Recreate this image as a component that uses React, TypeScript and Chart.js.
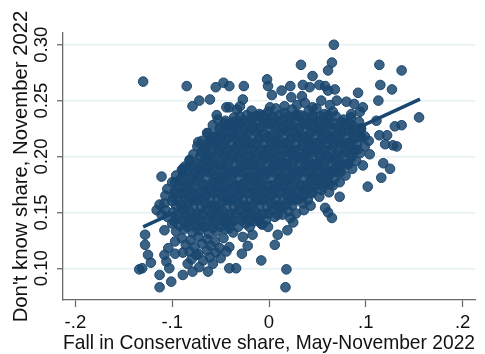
import { useEffect, useRef } from "react";
import { Chart, registerables } from "chart.js";

Chart.register(...registerables);

type Pt = [number, number];

// [fall in Conservative share, don't-know share] per constituency

// dense central band, row by row from the top
const coreCloud: Pt[] = [
  [-0.030,0.236],[-0.018,0.241],[-0.010,0.238],[-0.001,0.240],[0.007,0.243],[0.016,0.239],[0.024,0.242],[0.032,0.237],[0.041,0.241],[0.049,0.243],[0.057,0.238],[0.066,0.240],
  [-0.045,0.232],[-0.036,0.235],[-0.027,0.232],[-0.019,0.234],[-0.011,0.236],[-0.003,0.233],[0.005,0.235],[0.013,0.232],[0.021,0.234],[0.029,0.236],[0.037,0.233],[0.045,0.235],[0.053,0.232],[0.061,0.234],[0.069,0.236],[0.077,0.233],[0.085,0.235],[0.093,0.231],
  [-0.058,0.228],[-0.050,0.226],[-0.041,0.229],[-0.033,0.227],[-0.025,0.225],[-0.017,0.228],[-0.009,0.226],[-0.001,0.229],[0.007,0.227],[0.015,0.225],[0.023,0.228],[0.031,0.226],[0.039,0.229],[0.047,0.227],[0.055,0.225],[0.063,0.228],[0.071,0.226],[0.079,0.229],[0.087,0.227],[0.095,0.225],
  [-0.063,0.221],[-0.055,0.219],[-0.046,0.222],[-0.038,0.220],[-0.030,0.218],[-0.022,0.221],[-0.014,0.223],[-0.005,0.220],[0.003,0.218],[0.011,0.221],[0.019,0.223],[0.027,0.220],[0.035,0.218],[0.043,0.221],[0.051,0.223],[0.059,0.220],[0.067,0.218],[0.075,0.221],[0.083,0.223],[0.091,0.220],[0.099,0.218],
  [-0.069,0.214],[-0.060,0.216],[-0.052,0.213],[-0.044,0.215],[-0.036,0.217],[-0.027,0.214],[-0.019,0.212],[-0.010,0.215],[-0.002,0.217],[0.006,0.214],[0.015,0.212],[0.023,0.215],[0.031,0.217],[0.039,0.214],[0.047,0.212],[0.055,0.215],[0.063,0.217],[0.071,0.214],[0.079,0.212],[0.087,0.215],[0.095,0.217],[0.103,0.214],
  [-0.074,0.209],[-0.066,0.207],[-0.058,0.210],[-0.049,0.208],[-0.041,0.206],[-0.033,0.209],[-0.024,0.211],[-0.016,0.208],[-0.007,0.206],[0.001,0.209],[0.009,0.211],[0.018,0.208],[0.026,0.206],[0.034,0.209],[0.042,0.211],[0.050,0.208],[0.058,0.206],[0.066,0.209],[0.075,0.211],[0.083,0.208],[0.091,0.206],[0.099,0.209],
  [-0.078,0.202],[-0.070,0.204],[-0.062,0.201],[-0.053,0.203],[-0.045,0.200],[-0.037,0.202],[-0.028,0.204],[-0.020,0.201],[-0.012,0.199],[-0.003,0.202],[0.005,0.204],[0.013,0.201],[0.022,0.203],[0.030,0.200],[0.038,0.202],[0.046,0.204],[0.054,0.201],[0.062,0.199],[0.070,0.202],[0.078,0.204],[0.086,0.201],[0.094,0.203],
  [-0.082,0.196],[-0.074,0.194],[-0.066,0.197],[-0.057,0.195],[-0.049,0.193],[-0.041,0.196],[-0.032,0.198],[-0.024,0.195],[-0.016,0.193],[-0.007,0.196],[0.001,0.198],[0.009,0.195],[0.018,0.193],[0.026,0.196],[0.034,0.198],[0.042,0.195],[0.050,0.193],[0.058,0.196],[0.066,0.198],[0.074,0.195],[0.082,0.193],[0.090,0.196],
  [-0.089,0.189],[-0.081,0.191],[-0.072,0.188],[-0.064,0.190],[-0.056,0.192],[-0.047,0.189],[-0.039,0.187],[-0.030,0.190],[-0.022,0.192],[-0.013,0.189],[-0.005,0.187],[0.003,0.190],[0.012,0.192],[0.020,0.189],[0.028,0.187],[0.036,0.190],[0.045,0.192],[0.053,0.189],[0.061,0.187],[0.069,0.190],[0.077,0.192],[0.086,0.189],
  [-0.096,0.183],[-0.088,0.185],[-0.079,0.182],[-0.071,0.184],[-0.062,0.186],[-0.054,0.183],[-0.046,0.181],[-0.037,0.184],[-0.029,0.186],[-0.020,0.183],[-0.012,0.181],[-0.003,0.184],[0.005,0.186],[0.013,0.183],[0.022,0.181],[0.030,0.184],[0.038,0.186],[0.046,0.183],[0.055,0.181],[0.063,0.184],[0.071,0.186],[0.079,0.183],
  [-0.100,0.177],[-0.092,0.179],[-0.084,0.176],[-0.075,0.178],[-0.067,0.175],[-0.058,0.177],[-0.050,0.179],[-0.041,0.176],[-0.033,0.174],[-0.025,0.177],[-0.016,0.179],[-0.008,0.176],[0.001,0.174],[0.009,0.177],[0.017,0.179],[0.026,0.176],[0.034,0.174],[0.042,0.177],[0.050,0.179],[0.058,0.176],[0.066,0.174],[0.073,0.177],
  [-0.105,0.171],[-0.097,0.169],[-0.088,0.172],[-0.080,0.170],[-0.071,0.168],[-0.063,0.171],[-0.054,0.173],[-0.046,0.170],[-0.037,0.168],[-0.029,0.171],[-0.021,0.173],[-0.012,0.170],[-0.004,0.168],[0.005,0.171],[0.013,0.173],[0.021,0.170],[0.029,0.168],[0.038,0.171],[0.046,0.173],[0.054,0.170],[0.062,0.168],
  [-0.107,0.165],[-0.099,0.163],[-0.090,0.166],[-0.082,0.164],[-0.073,0.162],[-0.065,0.165],[-0.056,0.167],[-0.048,0.164],[-0.039,0.162],[-0.031,0.165],[-0.022,0.167],[-0.014,0.164],[-0.006,0.162],[0.003,0.165],[0.011,0.167],[0.020,0.164],[0.028,0.162],[0.036,0.165],[0.044,0.167],[0.052,0.164],
  [-0.108,0.158],[-0.100,0.160],[-0.091,0.157],[-0.083,0.159],[-0.074,0.161],[-0.066,0.158],[-0.057,0.156],[-0.049,0.159],[-0.040,0.161],[-0.032,0.158],[-0.024,0.156],[-0.015,0.159],[-0.007,0.161],[0.002,0.158],[0.010,0.156],[0.019,0.159],[0.027,0.161],[0.035,0.158],[0.043,0.156],
  [-0.107,0.152],[-0.099,0.150],[-0.090,0.153],[-0.082,0.151],[-0.073,0.149],[-0.065,0.152],[-0.056,0.154],[-0.048,0.151],[-0.039,0.149],[-0.031,0.152],[-0.022,0.154],[-0.014,0.151],[-0.005,0.149],[0.003,0.152],[0.012,0.154],[0.020,0.151],[0.028,0.149],[0.036,0.152],
  [-0.105,0.146],[-0.096,0.144],[-0.088,0.147],[-0.079,0.145],[-0.071,0.143],[-0.062,0.146],[-0.054,0.148],[-0.045,0.145],[-0.037,0.143],[-0.028,0.146],[-0.020,0.148],[-0.011,0.145],[-0.003,0.143],[0.006,0.146],[0.014,0.148],[0.022,0.145],
  [-0.100,0.140],[-0.092,0.138],[-0.083,0.141],[-0.075,0.139],[-0.066,0.137],[-0.058,0.140],[-0.049,0.142],[-0.041,0.139],[-0.032,0.137],[-0.024,0.140],[-0.015,0.142],[-0.007,0.139],
  [-0.096,0.133],[-0.088,0.135],[-0.079,0.132],[-0.071,0.134],[-0.062,0.131],[-0.054,0.133],[-0.045,0.135],[-0.037,0.132],
  [-0.090,0.127],[-0.081,0.125],[-0.073,0.128],[-0.064,0.126],[-0.056,0.124],[-0.047,0.127],
  [-0.086,0.121],[-0.077,0.119],[-0.069,0.122],[-0.060,0.120],[-0.051,0.118],
  [-0.082,0.115],[-0.073,0.113],[-0.064,0.116],[-0.055,0.114],
];

// further constituencies lying between those rows
const coreInfill: Pt[] = [
  [-0.023,0.237],[-0.014,0.236],[-0.006,0.237],[0.003,0.236],[0.011,0.237],[0.020,0.236],[0.028,0.237],[0.036,0.236],[0.045,0.237],[0.053,0.236],[0.061,0.237],
  [-0.046,0.230],[-0.037,0.231],[-0.029,0.230],[-0.021,0.231],[-0.013,0.230],[-0.005,0.231],[0.003,0.230],[0.011,0.231],[0.019,0.230],[0.027,0.231],[0.035,0.230],[0.043,0.231],[0.051,0.230],[0.059,0.231],[0.067,0.230],[0.075,0.231],[0.083,0.230],
  [-0.051,0.225],[-0.042,0.224],[-0.034,0.225],[-0.026,0.224],[-0.018,0.225],[-0.010,0.224],[-0.001,0.225],[0.007,0.224],[0.015,0.225],[0.023,0.224],[0.031,0.225],[0.039,0.224],[0.047,0.225],[0.055,0.224],[0.063,0.225],[0.071,0.224],[0.079,0.225],[0.087,0.224],[0.095,0.225],
  [-0.058,0.217],[-0.050,0.218],[-0.042,0.217],[-0.034,0.218],[-0.026,0.217],[-0.018,0.218],[-0.010,0.217],[-0.001,0.218],[0.007,0.217],[0.015,0.218],[0.023,0.217],[0.031,0.218],[0.039,0.217],[0.047,0.218],[0.055,0.217],[0.063,0.218],[0.071,0.217],[0.079,0.218],[0.087,0.217],[0.095,0.218],
  [-0.063,0.212],[-0.055,0.211],[-0.047,0.212],[-0.039,0.211],[-0.031,0.212],[-0.023,0.211],[-0.014,0.212],[-0.006,0.211],[0.002,0.212],[0.010,0.211],[0.019,0.212],[0.027,0.211],[0.035,0.212],[0.043,0.211],[0.051,0.212],[0.059,0.211],[0.067,0.212],[0.075,0.211],[0.083,0.212],[0.091,0.211],
  [-0.068,0.206],[-0.060,0.205],[-0.051,0.206],[-0.043,0.205],[-0.035,0.206],[-0.027,0.205],[-0.018,0.206],[-0.010,0.205],[-0.002,0.206],[0.007,0.205],[0.015,0.206],[0.023,0.205],[0.031,0.206],[0.040,0.205],[0.048,0.206],[0.056,0.205],[0.064,0.206],[0.072,0.205],[0.080,0.206],[0.088,0.205],
  [-0.071,0.200],[-0.063,0.199],[-0.055,0.200],[-0.046,0.199],[-0.038,0.200],[-0.030,0.199],[-0.021,0.200],[-0.013,0.199],[-0.005,0.200],[0.004,0.199],[0.012,0.200],[0.020,0.199],[0.028,0.200],[0.037,0.199],[0.045,0.200],[0.053,0.199],[0.061,0.200],[0.069,0.199],[0.077,0.200],[0.085,0.199],
  [-0.077,0.192],[-0.069,0.193],[-0.060,0.192],[-0.052,0.193],[-0.043,0.192],[-0.035,0.193],[-0.026,0.192],[-0.018,0.193],[-0.010,0.192],[-0.001,0.193],[0.007,0.192],[0.015,0.193],[0.024,0.192],[0.032,0.193],[0.040,0.192],[0.048,0.193],[0.057,0.192],[0.065,0.193],[0.073,0.192],[0.081,0.193],
  [-0.084,0.187],[-0.076,0.186],[-0.067,0.187],[-0.059,0.186],[-0.050,0.187],[-0.042,0.186],[-0.034,0.187],[-0.025,0.186],[-0.017,0.187],[-0.008,0.186],[0.000,0.187],[0.009,0.186],[0.017,0.187],[0.025,0.186],[0.033,0.187],[0.042,0.186],[0.050,0.187],[0.058,0.186],[0.066,0.187],[0.074,0.186],
  [-0.090,0.181],[-0.081,0.180],[-0.073,0.181],[-0.064,0.180],[-0.056,0.181],[-0.048,0.180],[-0.039,0.181],[-0.031,0.180],[-0.022,0.181],[-0.014,0.180],[-0.006,0.181],[0.003,0.180],[0.011,0.181],[0.020,0.180],[0.028,0.181],[0.036,0.180],[0.044,0.181],[0.052,0.180],[0.060,0.181],[0.068,0.180],
  [-0.094,0.173],[-0.086,0.174],[-0.078,0.173],[-0.069,0.174],[-0.060,0.173],[-0.052,0.174],[-0.044,0.173],[-0.035,0.174],[-0.027,0.173],[-0.018,0.174],[-0.010,0.173],[-0.002,0.174],[0.007,0.173],[0.015,0.174],[0.023,0.173],[0.032,0.174],[0.040,0.173],[0.048,0.174],[0.056,0.173],
  [-0.098,0.167],[-0.089,0.168],[-0.081,0.167],[-0.072,0.168],[-0.064,0.167],[-0.055,0.168],[-0.047,0.167],[-0.038,0.168],[-0.030,0.167],[-0.021,0.168],[-0.013,0.167],[-0.005,0.168],[0.004,0.167],[0.012,0.168],[0.020,0.167],[0.029,0.168],[0.037,0.167],[0.045,0.168],
  [-0.095,0.161],[-0.087,0.162],[-0.078,0.161],[-0.070,0.162],[-0.061,0.161],[-0.053,0.162],[-0.044,0.161],[-0.036,0.162],[-0.027,0.161],[-0.019,0.162],[-0.011,0.161],[-0.002,0.162],[0.007,0.161],[0.015,0.162],[0.023,0.161],[0.031,0.162],[0.040,0.161],
  [-0.096,0.156],[-0.087,0.155],[-0.078,0.156],[-0.070,0.155],[-0.061,0.156],[-0.053,0.155],[-0.044,0.156],[-0.036,0.155],[-0.027,0.156],[-0.019,0.155],[-0.010,0.156],[-0.002,0.155],[0.007,0.156],[0.015,0.155],[0.024,0.156],
  [-0.094,0.148],[-0.085,0.149],[-0.076,0.148],[-0.068,0.149],[-0.059,0.148],[-0.051,0.149],[-0.042,0.148],[-0.034,0.149],[-0.025,0.148],[-0.017,0.149],[-0.008,0.148],[0.000,0.149],[0.009,0.148],
  [-0.088,0.142],[-0.080,0.143],[-0.071,0.142],[-0.062,0.143],[-0.054,0.142],[-0.045,0.143],[-0.037,0.142],[-0.028,0.143],[-0.020,0.142],[-0.011,0.143],
  [-0.084,0.137],[-0.075,0.136],[-0.067,0.137],[-0.058,0.136],[-0.050,0.137],[-0.041,0.136],
];

// scattered points above and to the right of the band
const upperFringe: Pt[] = [
  [0.067,0.300],[0.065,0.284],[0.061,0.277],[0.033,0.282],[0.045,0.272],
  [0.114,0.282],[0.137,0.277],[0.115,0.264],[0.127,0.260],[0.113,0.250],
  [0.092,0.257],[0.097,0.244],[0.155,0.235],[0.130,0.227],[0.137,0.228],
  [0.111,0.232],[0.114,0.219],[0.122,0.219],[0.120,0.211],[0.128,0.210],
  [0.132,0.209],[0.104,0.202],[0.097,0.192],[0.118,0.194],[0.125,0.189],
  [0.116,0.181],[0.102,0.173],[0.073,0.164],[0.065,0.145],[0.061,0.150],
  [0.058,0.154],[0.063,0.175],[0.025,0.141],[0.019,0.134],
  [-0.002,0.269],[-0.001,0.263],[0.003,0.255],[0.013,0.259],[0.022,0.263],
  [0.035,0.264],[0.042,0.262],[0.052,0.264],[0.058,0.263],[0.061,0.259],
  [0.068,0.260],[0.070,0.250],[0.023,0.253],[0.034,0.254],[0.037,0.248],
  [-0.027,0.251],[-0.030,0.245],[-0.041,0.244],[-0.017,0.235],[0.001,0.244],
  [0.016,0.245],[0.029,0.246],[0.045,0.244],[0.054,0.250],[0.063,0.246],
  [-0.041,0.263],[-0.026,0.263],[0.080,0.249],[0.088,0.247],[0.094,0.240],[0.085,0.238],
];

// scattered points on the upper left
const leftFringe: Pt[] = [
  [-0.130,0.267],[-0.085,0.263],[-0.055,0.262],[-0.047,0.266],[-0.072,0.250],
  [-0.079,0.245],[-0.061,0.251],[-0.054,0.237],[-0.053,0.233],[-0.044,0.244],
  [-0.041,0.228],[-0.064,0.221],[-0.073,0.213],[-0.061,0.215],[-0.052,0.219],
  [-0.057,0.217],[-0.082,0.197],[-0.087,0.191],[-0.090,0.188],[-0.032,0.230],
  [-0.033,0.242],[-0.036,0.226],
];

// scattered points below the band
const lowerFringe: Pt[] = [
  [-0.111,0.182],[-0.097,0.177],[-0.113,0.157],[-0.116,0.152],[-0.111,0.148],
  [-0.128,0.130],[-0.128,0.121],[-0.125,0.112],[-0.122,0.105],[-0.131,0.100],
  [-0.134,0.099],[-0.113,0.094],[-0.113,0.083],[-0.101,0.088],[-0.103,0.100],
  [-0.108,0.112],[-0.104,0.118],[-0.106,0.106],[-0.089,0.094],[-0.079,0.097],
  [-0.063,0.097],[-0.061,0.110],[-0.089,0.114],[-0.097,0.124],[-0.084,0.104],
  [-0.072,0.101],[-0.041,0.100],[-0.108,0.134],[-0.098,0.142],[-0.097,0.113],
  [-0.075,0.112],[-0.068,0.107],[-0.058,0.104],[-0.050,0.109],[-0.044,0.115],[-0.080,0.108],
  [0.017,0.083],[0.018,0.099],[-0.008,0.107],[0.006,0.121],[0.009,0.130],
  [-0.001,0.137],[-0.008,0.140],[-0.017,0.130],[-0.022,0.120],[-0.028,0.113],
  [-0.034,0.100],[-0.020,0.137],[-0.027,0.128],[-0.041,0.119],
];

// linear fit, end points
const fitX = [-0.13, 0.156];
const fitY = [0.137, 0.2514];

const xTickValues = [-0.2, -0.1, 0, 0.1, 0.2];
const xTickLabels = ["-.2", "-.1", "0", ".1", ".2"];
const yTickValues = [0.1, 0.15, 0.2, 0.25, 0.3];
const yTickLabels = ["0.10", "0.15", "0.20", "0.25", "0.30"];

const xTitle = "Fall in Conservative share, May-November 2022";
const yTitle = "Don't know share, November 2022";

const NAVY = "#1a476f";
const AXIS = "#6a6a6a";
const GRID = "#e6eff1";
const FAMILY = "'Liberation Sans', Arial, Helvetica, sans-serif";

function labelFor(values: number[], labels: string[], v: number): string {
  const i = values.findIndex((t) => Math.abs(t - v) < 1e-9);
  return i >= 0 ? labels[i] : "";
}

export default function App() {
  const canvasRef = useRef<HTMLCanvasElement>(null);

  useEffect(() => {
    const canvas = canvasRef.current;
    if (!canvas) return;

    const points = [...coreCloud, ...coreInfill, ...upperFringe, ...leftFringe, ...lowerFringe].map(([x, y]) => ({ x, y }));
    const fit = fitX.map((x, i) => ({ x, y: fitY[i] }));

    const chart = new Chart(canvas, {
      type: "scatter",
      data: {
        datasets: [
          {
            type: "line",
            data: fit,
            showLine: true,
            borderColor: NAVY,
            borderWidth: 3.5,
            pointRadius: 0,
            fill: false,
          } as any,
          {
            data: points,
            pointRadius: 4.8,
            backgroundColor: "rgba(26,71,111,0.85)",
            borderColor: NAVY,
            borderWidth: 1,
          },
        ],
      },
      options: {
        responsive: false,
        animation: false,
        devicePixelRatio: 1,
        events: [],
        layout: { padding: { top: 33, right: 10, bottom: 0, left: 0 } },
        plugins: { legend: { display: false }, tooltip: { enabled: false } },
        scales: {
          x: {
            type: "linear",
            min: -0.2128,
            max: 0.2128,
            afterBuildTicks: (s: any) => {
              s.ticks = xTickValues.map((value) => ({ value }));
            },
            afterFit: (s: any) => {
              s.height = 54;
            },
            ticks: {
              autoSkip: false,
              minRotation: 0,
              maxRotation: 0,
              padding: 5,
              color: "#111",
              font: { family: FAMILY, size: 18.5 },
              callback: (v: any) => labelFor(xTickValues, xTickLabels, Number(v)),
            },
            grid: {
              drawOnChartArea: false,
              drawTicks: true,
              tickLength: 7,
              tickColor: AXIS,
              tickWidth: 1.3,
            },
            border: { color: AXIS, width: 1.3 },
            title: {
              display: true,
              text: xTitle,
              color: "#111",
              font: { family: FAMILY, size: 20.3, lineHeight: 1 },
              padding: 0,
            },
          },
          y: {
            type: "linear",
            min: 0.0716,
            max: 0.3105,
            afterBuildTicks: (s: any) => {
              s.ticks = yTickValues.map((value) => ({ value }));
            },
            afterFit: (s: any) => {
              s.width = 63;
            },
            ticks: {
              autoSkip: false,
              minRotation: 90,
              maxRotation: 90,
              crossAlign: "center",
              padding: -2.5,
              color: "#111",
              font: { family: FAMILY, size: 18.5 },
              callback: (v: any) => labelFor(yTickValues, yTickLabels, Number(v)),
            },
            grid: {
              color: GRID,
              lineWidth: 1.5,
              drawTicks: true,
              tickLength: 6,
              tickColor: AXIS,
              tickWidth: 1.3,
            },
            border: { color: AXIS, width: 1.3 },
            title: {
              display: true,
              text: yTitle,
              color: "#111",
              font: { family: FAMILY, size: 20.3, lineHeight: 1 },
              padding: { top: 11, bottom: 0 },
            },
          },
        },
      },
    });

    return () => chart.destroy();
  }, []);

  return (
    <div style={{ position: "fixed", left: 0, top: 0, width: 485, height: 354, background: "#fff" }}>
      <canvas ref={canvasRef} width={485} height={354} style={{ display: "block" }} />
    </div>
  );
}
